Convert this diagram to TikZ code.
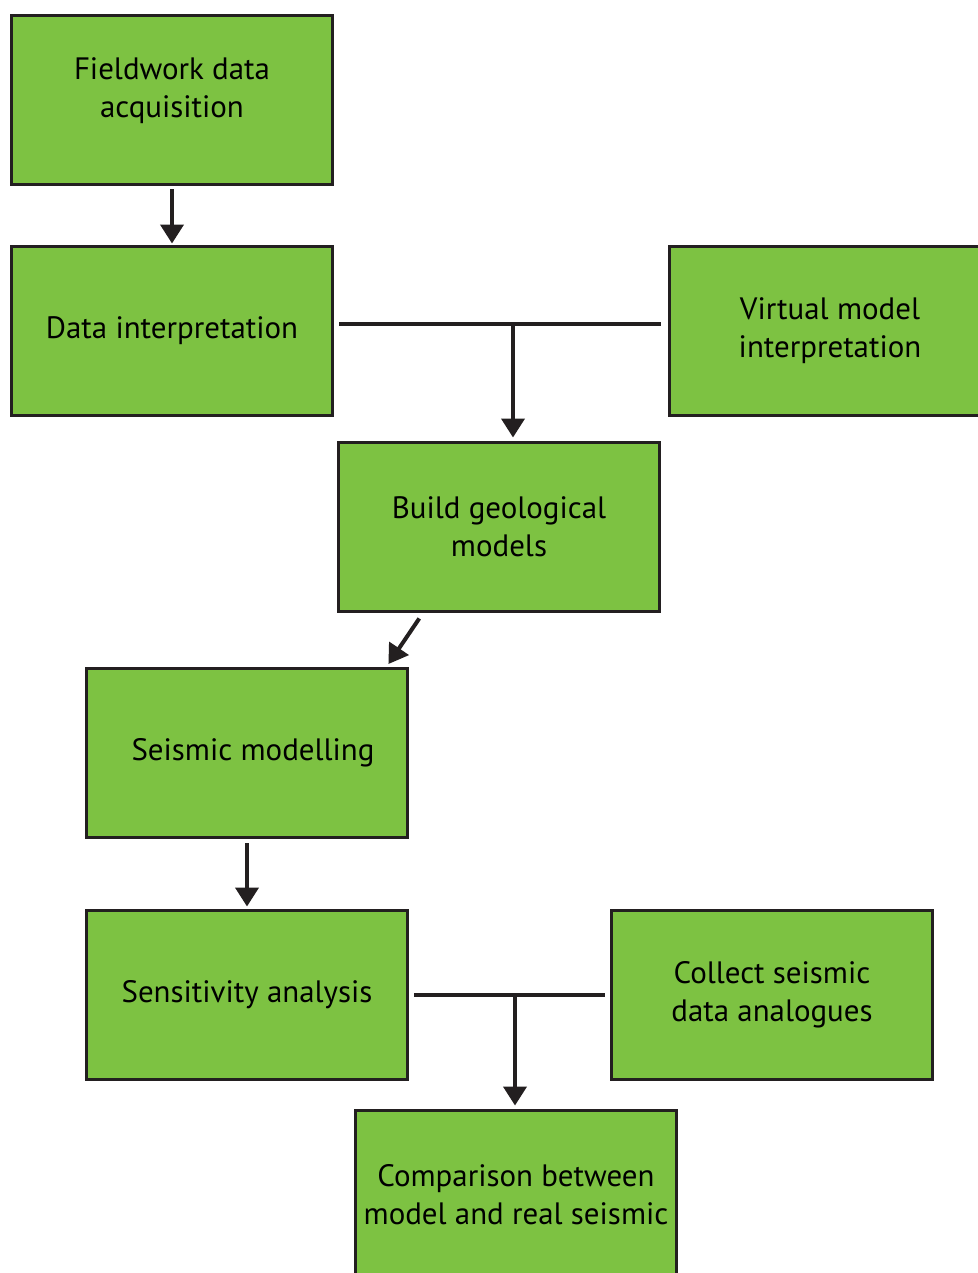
\documentclass[tikz,border=0pt]{standalone}
\usepackage{fontspec}
\setmainfont{PT Sans}
\usetikzlibrary{calc}
\usetikzlibrary{arrows.meta}
\definecolor{boxgreen}{RGB}{125,194,66}
\definecolor{inkdark}{RGB}{35,31,32}

\begin{document}
\begin{tikzpicture}[x=0.02cm,y=-0.02cm,
  stage/.style={draw=inkdark,line width=0.06cm,fill=boxgreen,minimum width=6.44cm,minimum height=3.4cm,align=center,inner sep=0pt,font=\fontsize{17.6}{21.6}\selectfont},
  link/.style={draw=inkdark,line width=0.08cm},
  flow/.style={link,-{Triangle[width=0.46cm,length=0.38cm]}}]

\useasboundingbox (0,0) rectangle (977,1273);

\node[stage,text depth=0.5cm] (field) at (172,100) {Fieldwork data\\acquisition};
\node[stage] (interp) at (172,331) {Data interpretation};
\node[stage] (virtual) at (830,331) {Virtual model\\interpretation};
\node[stage] (build) at (499,527) {Build geological\\models};
\node[stage] (seismic) at (247,753) {\hspace{0.24cm}Seismic modelling};
\node[stage] (sens) at (247,995) {Sensitivity analysis};
\node[stage] (collect) at (772,995) {Collect seismic\\data analogues};
\node[stage] (compare) at (516,1195) {Comparison between\\model and real seismic};

\coordinate (joinA) at (513,324);
\coordinate (joinB) at (515,995);
\coordinate (buildout) at ($(build.south west)!0.265!(build.south east)$);
\coordinate (seisin) at ($(seismic.north west)!0.93!(seismic.north east)$);

\draw[flow,shorten <=0.06cm,shorten >=0.02cm] (field) -- (interp);
\draw[link] (interp.east |- joinA) ++(5,0) -- ($(virtual.west |- joinA)+(-7,0)$);
\draw[flow,shorten >=0.06cm] (joinA) -- (joinA |- build.north);
\draw[flow,shorten <=0.12cm,shorten >=0.06cm] (buildout) -- (seisin);
\draw[flow,shorten <=0.08cm,shorten >=0.04cm] (seismic) -- (sens);
\draw[link,shorten <=0.1cm,shorten >=0.1cm] (sens.east) -- (collect.west);
\draw[flow,shorten >=0.06cm] (joinB) -- (joinB |- compare.north);

\end{tikzpicture}
\end{document}
